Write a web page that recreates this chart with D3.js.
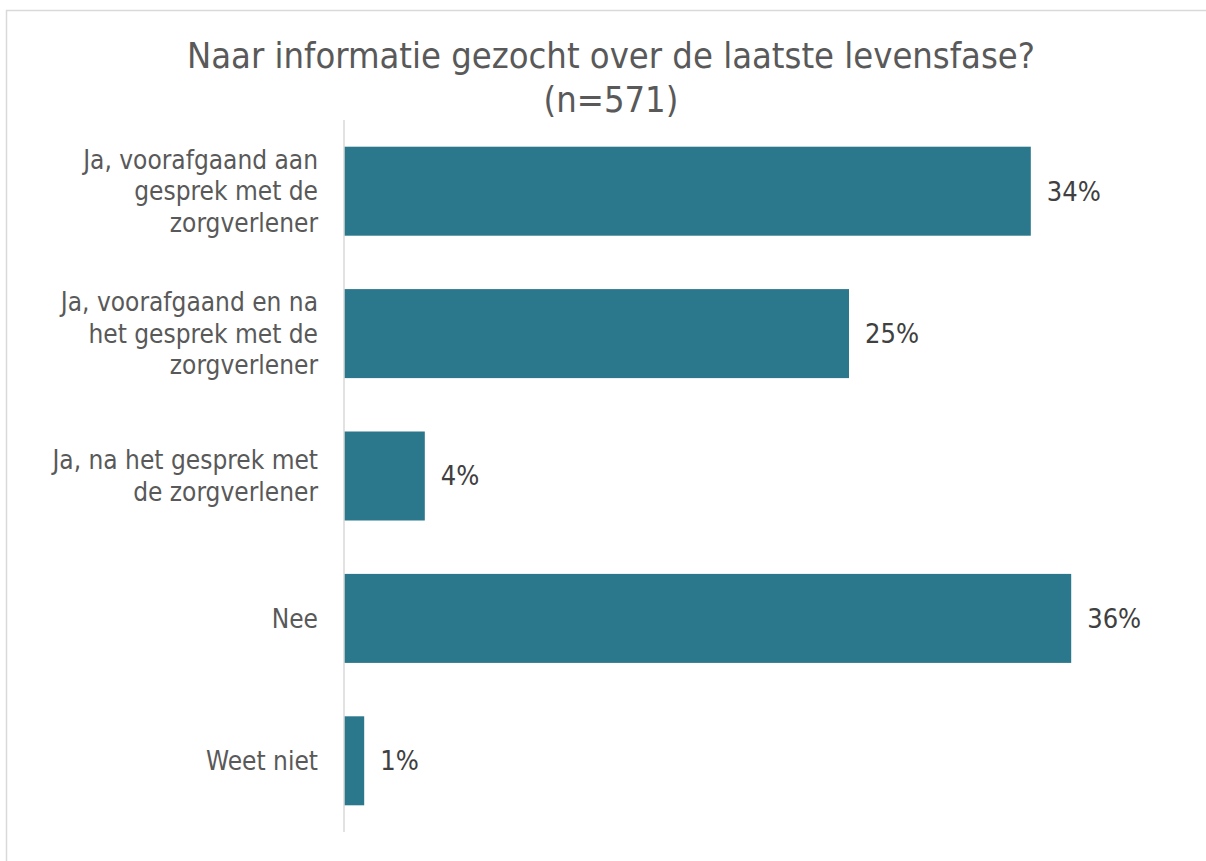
<!DOCTYPE html>
<html>
<head>
<meta charset="utf-8">
<script src="https://cdn.jsdelivr.net/npm/d3@7"></script>
<style>
body { margin: 0; background: #fff; }
svg { font-family: "DejaVu Sans Condensed", "DejaVu Sans", sans-serif; font-stretch: condensed; }
</style>
</head>
<body>
<div id="chart"></div>
<script>
// size of SVG
var w = 1206;
var h = 861;

// chart data
var titleLines = ["Naar informatie gezocht over de laatste levensfase?", "(n=571)"];
var categories = [
  ["Ja, voorafgaand aan", "gesprek met de", "zorgverlener"],
  ["Ja, voorafgaand en na", "het gesprek met de", "zorgverlener"],
  ["Ja, na het gesprek met", "de zorgverlener"],
  ["Nee"],
  ["Weet niet"]
];
var values = [34, 25, 4, 36, 1];
var valueLabels = ["34%", "25%", "4%", "36%", "1%"];

var svg = d3.select("#chart")
  .append("svg")
  .attr("width", w)
  .attr("height", h);

// chart border
svg.append("rect")
  .attr("x", 6.5).attr("y", 10.5)
  .attr("width", w).attr("height", h)
  .attr("fill", "white")
  .attr("stroke", "#d9d9d9")
  .attr("stroke-width", 1.5);

// title
svg.append("text")
  .attr("text-anchor", "middle")
  .attr("fill", "#595959")
  .style("font-size", "36px")
  .selectAll("tspan").data(titleLines).enter().append("tspan")
  .attr("x", 611)
  .attr("y", function(d, i) { return 68 + i * 44; })
  .text(function(d) { return d; });

// scales
var x = d3.scaleLinear().domain([0, 40]).range([344, 344 + 808]);
var y = d3.scaleBand()
  .domain(d3.range(values.length))
  .range([120, 832])
  .paddingInner(0.375)
  .paddingOuter(0.1875);

// bars
svg.selectAll(".bar").data(values).enter().append("rect")
  .attr("class", "bar")
  .attr("x", x(0))
  .attr("y", function(d, i) { return y(i); })
  .attr("width", function(d) { return x(d) - x(0); })
  .attr("height", y.bandwidth())
  .attr("fill", "#2b778b");

// category axis line
svg.append("line")
  .attr("x1", 344).attr("x2", 344)
  .attr("y1", 120).attr("y2", 832)
  .attr("stroke", "#d9d9d9")
  .attr("stroke-width", 1.5);

// category labels
var lineH = 31.5;
svg.selectAll(".cat").data(categories).enter().append("text")
  .attr("class", "cat")
  .attr("text-anchor", "end")
  .attr("fill", "#595959")
  .style("font-size", "26px")
  .each(function(lines, i) {
    var cy = y(i) + y.bandwidth() / 2;
    var top = cy - (lines.length - 1) * lineH / 2;
    d3.select(this).selectAll("tspan").data(lines).enter().append("tspan")
      .attr("x", 318)
      .attr("y", function(d, j) { return top + j * lineH; })
      .attr("dy", "0.35em")
      .text(function(d) { return d; });
  });

// value labels
svg.selectAll(".val").data(values).enter().append("text")
  .attr("class", "val")
  .attr("x", function(d) { return x(d) + 16; })
  .attr("y", function(d, i) { return y(i) + y.bandwidth() / 2; })
  .attr("dy", "0.35em")
  .attr("fill", "#404040")
  .style("font-size", "27px")
  .text(function(d, i) { return valueLabels[i]; });
</script>
</body>
</html>
